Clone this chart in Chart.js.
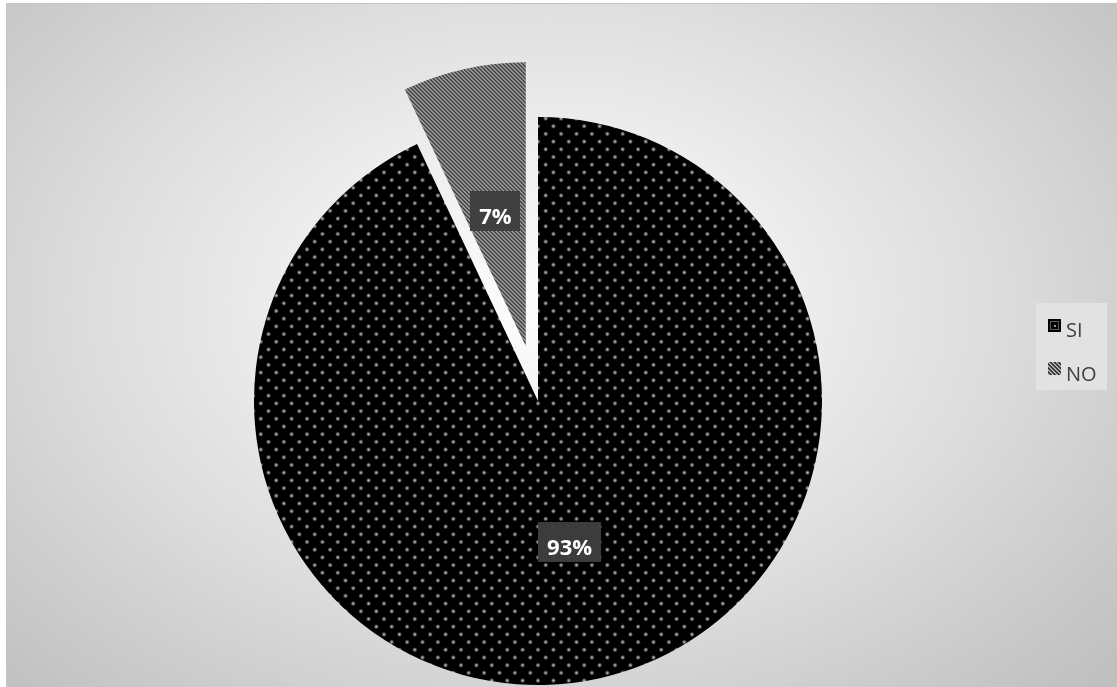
<!DOCTYPE html>
<html>
<head>
<meta charset="utf-8">
<script src="https://cdn.jsdelivr.net/npm/chart.js@4.4.1/dist/chart.umd.min.js"></script>
<style>
  html, body { margin: 0; padding: 0; width: 1117px; height: 687px; overflow: hidden; background: #ffffff; }
  #frame {
    position: absolute; left: 6px; top: 3px; width: 1130px; height: 700px;
    border: 1px solid #c4c4c4; box-sizing: border-box;
    background: radial-gradient(600px 420px at 534px 300px, #fdfdfd 0%, #eeeeee 40%, #dcdcdc 77%, #cfcfcf 100%, #bfbfbf 130%);
  }
  #c { position: absolute; left: 0; top: 0; }
</style>
</head>
<body>
<div id="frame"></div>
<canvas id="c" width="1117" height="687"></canvas>
<script>
// ---- data ----
const categories = ['SI', 'NO'];
const shares = [93, 7];

// ---- patterns ----
function dotPattern() {
  const s = 77, step = 15.4, half = 7.7;
  const cv = document.createElement('canvas');
  cv.width = s; cv.height = s;
  const g = cv.getContext('2d');
  g.fillStyle = '#000000';
  g.fillRect(0, 0, s, s);
  const pts = [];
  for (let i = -1; i <= 5; i++) {
    for (let j = -1; j <= 5; j++) {
      pts.push([14.4 + i * step, 3 + j * step]);
      pts.push([14.4 - half + i * step, 3 + half + j * step]);
    }
  }
  pts.forEach(([x, y]) => {
    const grd = g.createRadialGradient(x, y, 0, x, y, 2.8);
    grd.addColorStop(0, 'rgba(190,190,190,1)');
    grd.addColorStop(0.45, 'rgba(135,135,135,0.85)');
    grd.addColorStop(1, 'rgba(60,60,60,0)');
    g.fillStyle = grd;
    g.beginPath(); g.arc(x, y, 2.8, 0, Math.PI * 2); g.fill();
  });
  return g.createPattern(cv, 'repeat');
}
function stripePattern() {
  const s = 8;
  const cv = document.createElement('canvas');
  cv.width = s; cv.height = s;
  const g = cv.getContext('2d');
  const img = g.createImageData(s, s);
  const shades = [0x30, 0x44, 0xc4, 0x88];
  for (let y = 0; y < s; y++) {
    for (let x = 0; x < s; x++) {
      const v = (((x - y) % 4) + 4) % 4;
      const c = shades[v];
      const k = (y * s + x) * 4;
      img.data[k] = c; img.data[k + 1] = c; img.data[k + 2] = c; img.data[k + 3] = 255;
    }
  }
  g.putImageData(img, 0, 0);
  return g.createPattern(cv, 'repeat');
}
const siFill = dotPattern();
const noFill = stripePattern();

// ---- plugins ----
// pulls a slice out along its mid-angle by a fixed pixel distance (Excel-style explosion)
const explodePlugin = {
  id: 'explode',
  afterUpdate(chart, args, opts) {
    const meta = chart.getDatasetMeta(0);
    meta.data.forEach((arc, i) => {
      const px = (opts.px || [])[i] || 0;
      if (!px || arc._exploded) return;
      const orig = arc.draw;
      arc._explodePx = px;
      arc.draw = function (ctx) {
        const mid = (this.startAngle + this.endAngle) / 2;
        ctx.save();
        ctx.translate(Math.cos(mid) * px, Math.sin(mid) * px);
        orig.call(this, ctx);
        ctx.restore();
      };
      arc._exploded = true;
    });
  }
};
const labelPlugin = {
  id: 'pctLabels',
  afterDatasetsDraw(chart) {
    const ctx = chart.ctx;
    const meta = chart.getDatasetMeta(0);
    const fr = [0.51, 0.49];
    ctx.save();
    ctx.font = 'bold 22px "Open Sans"';
    ctx.textAlign = 'center';
    ctx.textBaseline = 'alphabetic';
    meta.data.forEach((arc, i) => {
      const p = arc.getProps(['x', 'y', 'startAngle', 'endAngle', 'outerRadius']);
      const off = arc._explodePx || 0;
      const mid = (p.startAngle + p.endAngle) / 2;
      const d = off + fr[i] * p.outerRadius;
      const ax = p.x + Math.cos(mid) * d;
      const ay = p.y + Math.sin(mid) * d;
      const txt = shares[i] + '%';
      const w = ctx.measureText(txt).width + 18;
      const h = 40;
      ctx.fillStyle = 'rgba(62,62,62,0.97)';
      ctx.fillRect(Math.round(ax - w / 2), Math.round(ay - h / 2), Math.round(w), h);
      ctx.fillStyle = '#ffffff';
      ctx.fillText(txt, ax, ay + 13);
    });
    ctx.restore();
  }
};
const legendPlugin = {
  id: 'customLegend',
  afterDraw(chart) {
    const ctx = chart.ctx;
    ctx.save();
    ctx.fillStyle = '#e2e2e2';
    ctx.fillRect(1036, 303, 71, 87);
    const tops = [319, 362];
    categories.forEach((name, i) => {
      const y = tops[i];
      if (i === 0) {
        ctx.fillStyle = '#000000';
        ctx.fillRect(1048, y, 13, 13);
        ctx.strokeStyle = '#5a5a5a';
        ctx.lineWidth = 1;
        ctx.strokeRect(1050.5, y + 2.5, 8, 8);
        ctx.fillStyle = '#000';
        ctx.fillRect(1051, y + 3, 7, 7);
        ctx.fillStyle = '#9a9a9a';
        ctx.fillRect(1054, y + 6, 2, 2);
      } else {
        ctx.fillStyle = noFill;
        ctx.fillRect(1048, y, 13, 13);
      }
      ctx.fillStyle = '#404040';
      ctx.font = '20px "Open Sans"';
      ctx.textAlign = 'left';
      ctx.textBaseline = 'alphabetic';
      ctx.fillText(name, 1066, i === 0 ? 337 : 381);
    });
    ctx.restore();
  }
};

new Chart(document.getElementById('c'), {
  type: 'pie',
  data: {
    labels: categories,
    datasets: [{
      data: shares,
      backgroundColor: [siFill, noFill],
      borderWidth: 0,
      radius: 284,
      clip: false
    }]
  },
  options: {
    responsive: false,
    animation: false,
    devicePixelRatio: 1,
    layout: { padding: { left: 0, right: 41, top: 115, bottom: 0 } },
    plugins: {
      legend: { display: false },
      tooltip: { enabled: false },
      title: { display: false },
      explode: { px: [0, 56] }
    }
  },
  plugins: [explodePlugin, labelPlugin, legendPlugin]
});
</script>
</body>
</html>
